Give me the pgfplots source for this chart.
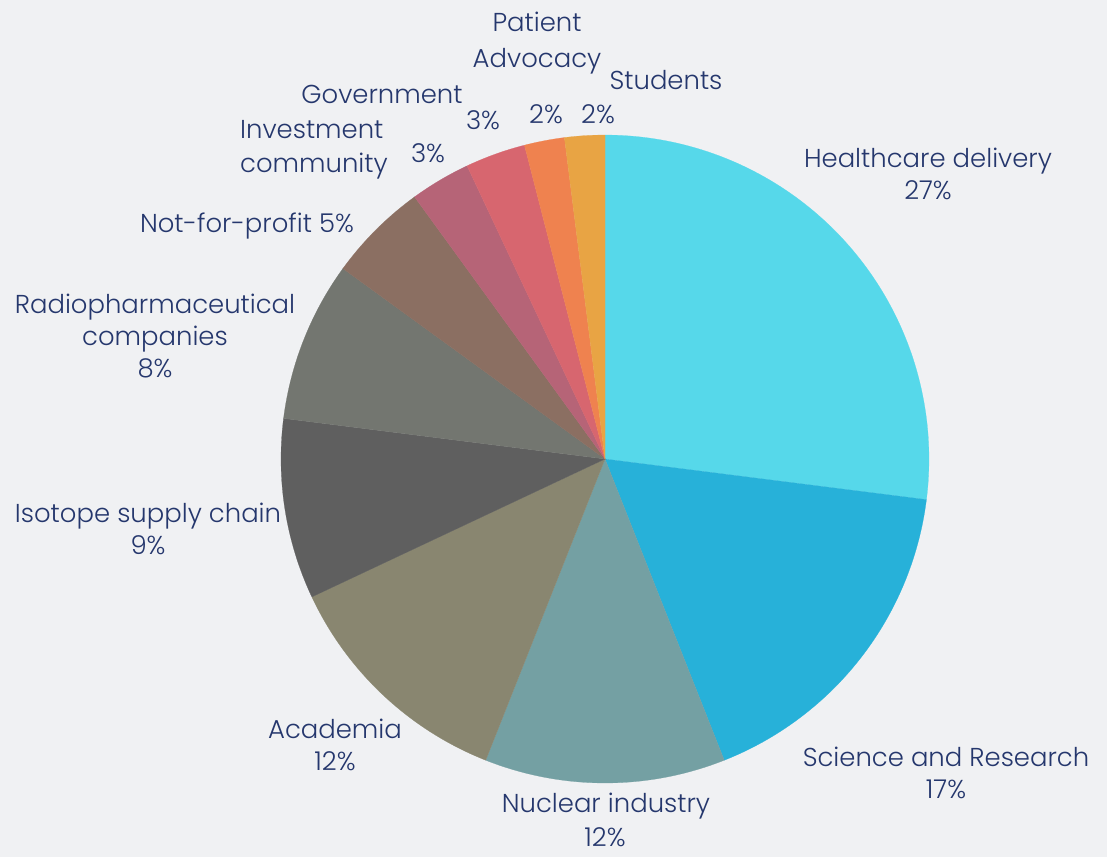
\documentclass[border=0pt]{standalone}
\usepackage{pgfplots}
\pgfplotsset{compat=1.18}
\usepackage{fontspec}
\setmainfont{Poppins}[UprightFont={* Light}]
\definecolor{bg}{HTML}{F0F1F3}
\definecolor{txt}{HTML}{25376D}
\definecolor{cHealth}{HTML}{56D8EA}
\definecolor{cSci}{HTML}{27B1D9}
\definecolor{cNuc}{HTML}{74A0A3}
\definecolor{cAcad}{HTML}{898670}
\definecolor{cIso}{HTML}{5F5F5F}
\definecolor{cRadio}{HTML}{737670}
\definecolor{cNfp}{HTML}{8B6F62}
\definecolor{cInv}{HTML}{B66477}
\definecolor{cGov}{HTML}{D7666F}
\definecolor{cPat}{HTML}{EF824F}
\definecolor{cStu}{HTML}{E8A444}
% slice: colour, start angle, end angle (angles = 90 - 3.6 * cumulative percent)
\newcommand{\slice}[3]{%
  \addplot[fill=#1, draw=#1, line width=0.2pt, domain=#2:#3, samples=90, variable=\t]
    ({cos(t)},{sin(t)}) -- (axis cs:0,0) -- cycle;}
\begin{document}
\begin{tikzpicture}
\fill[bg] (0bp,0bp) rectangle (1107bp,-857bp);
\begin{axis}[at={(605bp,-459bp)}, anchor=origin, x=324bp, y=324bp,
  xmin=-1, xmax=1, ymin=-1, ymax=1, hide axis, clip=false]
% Healthcare delivery 27
\slice{cHealth}{-7.2}{90}
% Science and Research 17
\slice{cSci}{-68.4}{-7.2}
% Nuclear industry 12
\slice{cNuc}{-111.6}{-68.4}
% Academia 12
\slice{cAcad}{-154.8}{-111.6}
% Isotope supply chain 9
\slice{cIso}{-187.2}{-154.8}
% Radiopharmaceutical companies 8
\slice{cRadio}{-216}{-187.2}
% Not-for-profit 5
\slice{cNfp}{-234}{-216}
% Investment community 3
\slice{cInv}{-244.8}{-234}
% Government 3
\slice{cGov}{-255.6}{-244.8}
% Patient Advocacy 2
\slice{cPat}{-262.8}{-255.6}
% Students 2
\slice{cStu}{-270}{-262.8}
\end{axis}
\begin{scope}[every node/.style={text=txt, font=\fontsize{26}{32.5}\selectfont, align=center, inner sep=0pt}]
\node at (928bp,-174bp) {Healthcare delivery\\27\%};
\node at (946bp,-773bp) {Science and Research\\17\%};
\node at (606bp,-806bp) {Nuclear industry};
\node at (605bp,-837bp) {12\%};
\node at (335bp,-745bp) {Academia\\12\%};
\node at (148bp,-529bp) {Isotope supply chain\\9\%};
\node at (155bp,-336bp) {Radiopharmaceutical\\companies\\8\%};
\node at (247bp,-226bp) {Not-for-profit 5\%};
\node[anchor=west] at (240bp,-130bp) {Investment};
\node[anchor=west] at (240bp,-166bp) {community};
\node at (428bp,-153bp) {3\%};
\node at (382bp,-94bp) {Government};
\node at (483bp,-120bp) {3\%};
\node at (537bp,-22bp) {Patient};
\node at (537bp,-61bp) {Advocacy};
\node at (546bp,-114bp) {2\%};
\node at (666bp,-80bp) {Students};
\node at (598bp,-114bp) {2\%};
\end{scope}
\end{tikzpicture}
\end{document}
